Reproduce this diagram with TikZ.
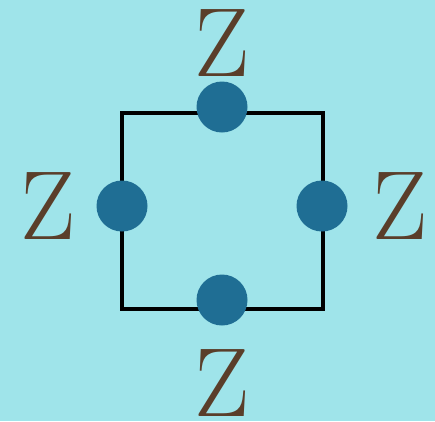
\documentclass[tikz,border=0pt]{standalone}
\usetikzlibrary{positioning}
\definecolor{bgcyan}{HTML}{9FE4EA}
\definecolor{dotblue}{HTML}{1F6E94}
\definecolor{zbrown}{HTML}{5A3E2A}
\tikzset{every picture/.append style={thick}}
\begin{document}
\begin{tikzpicture}[x=1pt, y=-1pt,
    dot/.style={circle, fill=dotblue, minimum size=51pt, inner sep=0pt},
    zlabel/.style={text=zbrown, font=\fontsize{98}{98}\selectfont, inner sep=0pt}]
  % Background
  \fill[bgcyan] (0,0) rectangle (435,421);

  % Square
  \coordinate (tl) at (122,113);
  \coordinate (br) at (323,309);
  \draw[line width=4pt, black] (tl) rectangle (br);

  % Dots on the sides
  \node[dot] (top) at (222,107) {};
  \node[dot] (left) at (122,206) {};
  \node[dot] (right) at (322,206) {};
  \node[dot] (bottom) at (222,300) {};

  % Labels
  \node[zlabel, above=4pt of top] (ztop) {Z};
  \node[zlabel, left=20pt of left] (zleft) {Z};
  \node[zlabel, right=24pt of right] (zright) {Z};
  \node[zlabel, below=23pt of bottom] (zbottom) {Z};
\end{tikzpicture}
\end{document}
